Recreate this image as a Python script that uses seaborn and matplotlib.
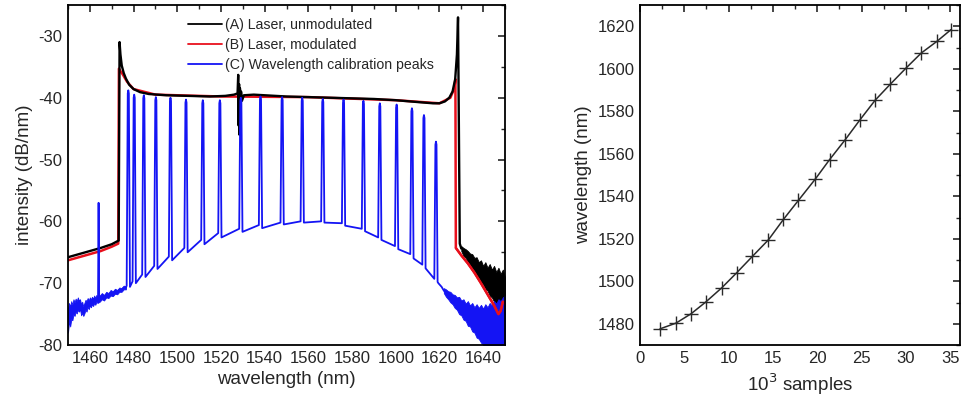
import matplotlib
matplotlib.use("Agg")
import matplotlib.pyplot as plt
import numpy as np
import seaborn as sns
from matplotlib.ticker import MultipleLocator
from matplotlib.lines import Line2D

# ---------------- data: left panel (spectra) ----------------
# (A) laser, unmodulated (black)
black_x = [1450, 1455, 1460, 1465, 1470, 1473.2, 1473.6, 1474.0, 1474.6, 1475.5, 1476.5, 1478, 1480, 1483, 1487,
           1495, 1505, 1515, 1522, 1526, 1527.6, 1527.9, 1528.1, 1528.3, 1528.5, 1528.7, 1528.9, 1529.2, 1529.6,
           1530.5, 1535, 1540, 1550, 1560, 1570, 1580, 1590, 1600, 1610, 1617, 1620, 1622.5, 1624.5, 1626, 1627.2,
           1628.0, 1628.5, 1628.9, 1629.3, 1630]
black_y = [-65.8, -65.3, -64.8, -64.3, -63.7, -63.1, -31.0, -33.0, -34.8, -36.0, -36.9, -37.9, -38.6, -39.1, -39.4,
           -39.6, -39.7, -39.8, -39.7, -39.5, -39.3, -36.3, -44.5, -37.8, -46.0, -38.5, -42.5, -39.0, -40.5,
           -39.6, -39.5, -39.6, -39.8, -39.9, -40.0, -40.1, -40.2, -40.4, -40.7, -40.9, -40.9, -40.6, -40.0, -39.0, -37.0,
           -33.0, -27.0, -45.0, -63.6, -64.4]
# noisy tail of (A): envelope
black_tail_x = [1630, 1631, 1632, 1633, 1634, 1635, 1636, 1637, 1638, 1639, 1640, 1641, 1642, 1643, 1644, 1645,
                1646, 1647, 1648, 1649, 1650]
black_tail_hi = [-64.0, -64.3, -64.5, -64.8, -65.2, -65.3, -65.9, -65.8, -66.6, -66.3, -67.2, -66.6, -67.5, -66.9,
                 -67.8, -67.2, -68.2, -67.5, -68.5, -67.8, -69.0]
black_tail_lo = [-64.8, -65.6, -65.9, -66.6, -67.0, -67.6, -68.0, -68.8, -69.1, -69.9, -70.2, -71.0, -71.2, -72.0,
                 -72.3, -73.0, -73.2, -73.8, -74.0, -74.5, -75.0]

# (B) laser, modulated (red)
red_x = [1450, 1455, 1460, 1465, 1470, 1473.0, 1473.3, 1473.8, 1475, 1477, 1480, 1490, 1520, 1560, 1600, 1620,
         1625, 1626.8, 1627.3, 1627.5, 1630, 1633, 1636, 1639, 1642, 1645, 1647, 1648, 1649]
red_y = [-66.3, -65.8, -65.3, -64.8, -64.1, -63.6, -35.3, -35.6, -36.2, -37.4, -38.6, -39.5, -39.8, -39.9, -40.4, -40.9,
         -40.0, -38.5, -37.0, -64.3, -65.5, -66.8, -68.3, -70.0, -71.8, -73.6, -75.0, -74.5, -73.0]

# (C) wavelength calibration peaks (blue)
blue_left_x = [1450, 1450.5, 1451, 1451.5, 1452, 1452.5, 1453, 1453.5, 1454, 1454.5, 1455, 1455.5, 1456, 1456.5,
               1457, 1457.5, 1458, 1458.5, 1459, 1459.5, 1460, 1460.5, 1461, 1461.5, 1462, 1462.5, 1463, 1463.5,
               1464.5, 1465.5, 1466.5, 1467.5, 1468.5, 1469.5, 1470.5, 1471.5, 1472.5, 1473.5, 1474.5, 1475.5, 1476.5]
blue_left_hi = [-74.0, -73.2, -73.8, -72.9, -73.5, -72.6, -73.1, -72.5, -72.9, -72.3, -72.8, -72.6, -73.4, -73.0,
                -73.8, -73.2, -72.7, -72.9, -72.4, -72.8, -72.3, -72.6, -72.2, -72.5, -72.0, -72.4, -71.9, -72.2,
                -72.0, -71.6, -71.9, -71.4, -71.6, -71.1, -71.3, -70.9, -71.1, -70.7, -70.8, -70.4, -70.5]
blue_left_lo = [-78.0, -76.2, -77.0, -75.8, -76.0, -75.0, -75.3, -74.6, -74.9, -74.3, -74.6, -74.2, -75.2, -74.8,
                -75.3, -74.9, -74.3, -74.6, -73.8, -74.2, -73.6, -73.9, -73.4, -73.7, -73.2, -73.5, -73.0, -73.2,
                -73.0, -72.6, -72.8, -72.3, -72.4, -72.0, -72.1, -71.7, -71.8, -71.4, -71.4, -71.0, -71.0]
iso_peak_x = 1464.0
iso_peak_top = -57.0
iso_peak_base = -72.5

peak_x = [1477.6, 1480.3, 1484.7, 1490.2, 1496.9, 1504.0, 1511.7, 1519.5, 1529.1, 1538.1,
          1548.0, 1557.2, 1566.6, 1576.1, 1585.2, 1592.7, 1600.4, 1607.4, 1612.9, 1618.4]
peak_top = [-38.8, -39.5, -39.6, -39.9, -40.0, -40.3, -40.4, -40.4, -40.0, -39.8,
            -39.9, -40.0, -40.2, -40.3, -40.5, -40.9, -41.1, -41.7, -42.8, -47.1]
peak_base_left = [-70.4, -69.7, -68.6, -67.2, -65.7, -64.3, -63.0, -61.9, -61.2, -60.6,
                  -60.2, -60.0, -60.0, -60.3, -61.2, -62.6, -64.0, -65.3, -67.0, -69.3]
peak_base_right = [-70.6, -70.0, -69.0, -67.7, -66.3, -65.0, -63.7, -62.6, -61.7, -61.1,
                   -60.5, -60.2, -60.2, -60.7, -61.6, -63.0, -64.5, -66.0, -67.6, -69.8]
blue_mid_x = [1619.5, 1621]
blue_mid_y = [-70.0, -70.6]
blue_tail_x = [1622, 1623, 1624, 1625, 1626, 1627, 1628, 1629, 1630, 1631, 1632, 1633, 1634, 1635, 1636, 1637,
               1638, 1639, 1640, 1641, 1642, 1643, 1644, 1645, 1646, 1647, 1648, 1649, 1650]
blue_tail_hi = [-70.8, -71.0, -71.3, -71.4, -71.8, -71.9, -72.3, -72.2, -72.8, -72.6, -73.3, -72.9, -73.6, -73.2,
                -73.9, -73.4, -74.0, -73.5, -74.1, -73.4, -73.9, -73.2, -73.6, -72.9, -73.3, -72.6, -72.9, -72.3, -72.0]
blue_tail_lo = [-71.6, -72.2, -72.6, -73.1, -73.4, -74.0, -74.3, -75.0, -75.2, -75.9, -76.1, -76.9, -77.0, -77.8,
                -78.0, -78.8, -79.0, -79.6, -80, -80, -80, -80, -80, -80, -80, -80, -80, -80, -80]

legend_labels = ["(A) Laser, unmodulated", "(B) Laser, modulated", "(C) Wavelength calibration peaks"]

# ---------------- data: right panel (calibration) ----------------
samples_k = [2.26, 4.06, 5.76, 7.41, 9.22, 10.91, 12.68, 14.49, 16.18, 17.88,
             19.76, 21.38, 23.15, 24.84, 26.53, 28.23, 30.03, 31.73, 33.50, 35.08]
cal_wavelength = peak_x

# ---------------- style ----------------
sns.set_style("white")
plt.rcParams['font.family'] = ['Liberation Sans', 'DejaVu Sans']
plt.rcParams['axes.unicode_minus'] = False
plt.rcParams['axes.linewidth'] = 1.3
for ax_ in ('x', 'y'):
    plt.rcParams[f'{ax_}tick.direction'] = 'in'
    plt.rcParams[f'{ax_}tick.major.size'] = 5
    plt.rcParams[f'{ax_}tick.minor.size'] = 2.8
    plt.rcParams[f'{ax_}tick.major.width'] = 1.2
    plt.rcParams[f'{ax_}tick.minor.width'] = 1.0

BLACK, RED, BLUE = "#000000", "#e8101c", "#1414f4"
PEAK_HALF_BASE = 0.75
PEAK_HALF_TOP = 0.25

fig = plt.figure(figsize=(9.61, 4.04), dpi=100)
axL = fig.add_axes([68 / 961, 59 / 404, 437 / 961, 340 / 404])
axR = fig.add_axes([640 / 961, 59 / 404, 320 / 961, 340 / 404])


def line(ax, xs, ys, color, lw):
    sns.lineplot(x=np.asarray(xs, float), y=np.asarray(ys, float), sort=False, estimator=None,
                 color=color, linewidth=lw, ax=ax)


# red first (underneath), then black, then blue
line(axL, red_x, red_y, RED, 1.8)
line(axL, black_x, black_y, BLACK, 1.7)
axL.fill_between(black_tail_x, black_tail_lo, black_tail_hi, color=BLACK, linewidth=0.6)
# red tail drawn along the lower edge of the black noise
line(axL, red_x[19:], red_y[19:], RED, 1.6)

# blue path
bx, by = [], []
lmid = (np.array(blue_left_lo) + np.array(blue_left_hi)) / 2
for x, y in zip(blue_left_x, lmid):
    if x < iso_peak_x:
        bx.append(x); by.append(y)
bx += [iso_peak_x - 0.25, iso_peak_x, iso_peak_x + 0.25]
by += [iso_peak_base, iso_peak_top, iso_peak_base]
for x, y in zip(blue_left_x, lmid):
    if x > iso_peak_x:
        bx.append(x); by.append(y)
for c, t, bl, br in zip(peak_x, peak_top, peak_base_left, peak_base_right):
    bx += [c - PEAK_HALF_BASE, c - PEAK_HALF_TOP, c, c + PEAK_HALF_TOP, c + PEAK_HALF_BASE]
    by += [bl, t - 0.5, t, t - 0.5, br]
bx += blue_mid_x
by += blue_mid_y
tmid = (np.array(blue_tail_lo) + np.array(blue_tail_hi)) / 2
bx += blue_tail_x
by += list(tmid)
axL.fill_between(blue_left_x, blue_left_lo, blue_left_hi, color=BLUE, linewidth=0.6)
axL.fill_between(blue_tail_x, blue_tail_lo, blue_tail_hi, color=BLUE, linewidth=0.6)
line(axL, bx, by, BLUE, 1.3)

axL.set_xlim(1450, 1650)
axL.set_ylim(-80, -25)
axL.xaxis.set_minor_locator(MultipleLocator(10))
axL.yaxis.set_major_locator(MultipleLocator(10))
axL.yaxis.set_minor_locator(MultipleLocator(5))
axL.set_xticks(np.arange(1460, 1641, 20))
axL.set_xlabel("wavelength (nm)", fontsize=13.5, labelpad=4)
axL.set_ylabel("intensity (dB/nm)", fontsize=13.5, labelpad=4)

handles = [Line2D([], [], color=c, lw=1.3) for c in (BLACK, RED, BLUE)]
axL.legend(handles, legend_labels, loc="upper left", bbox_to_anchor=(0.252, 0.99), frameon=False,
           fontsize=10.2, handlelength=2.4, handletextpad=0.2, labelspacing=0.42, borderpad=0.2)

# right panel
line(axR, samples_k, cal_wavelength, "#2a2a2a", 1.1)
sns.scatterplot(x=samples_k, y=cal_wavelength, marker="+", s=90, color="#2a2a2a", linewidth=1.0, ax=axR)
axR.set_xlim(0, 36.1)
axR.set_ylim(1470, 1630)
axR.xaxis.set_major_locator(MultipleLocator(5))
axR.xaxis.set_minor_locator(MultipleLocator(2.5))
axR.yaxis.set_major_locator(MultipleLocator(20))
axR.yaxis.set_minor_locator(MultipleLocator(10))
axR.set_xlabel("10$^3$ samples", fontsize=13.5, labelpad=4)
axR.set_ylabel("wavelength (nm)", fontsize=13.5, labelpad=4)

for ax in (axL, axR):
    ax.tick_params(which="both", top=True, right=True, direction="in", labelsize=12, pad=4)
    for s in ax.spines.values():
        s.set_visible(True)
        s.set_color("black")

fig.savefig("out.png", dpi=100)
